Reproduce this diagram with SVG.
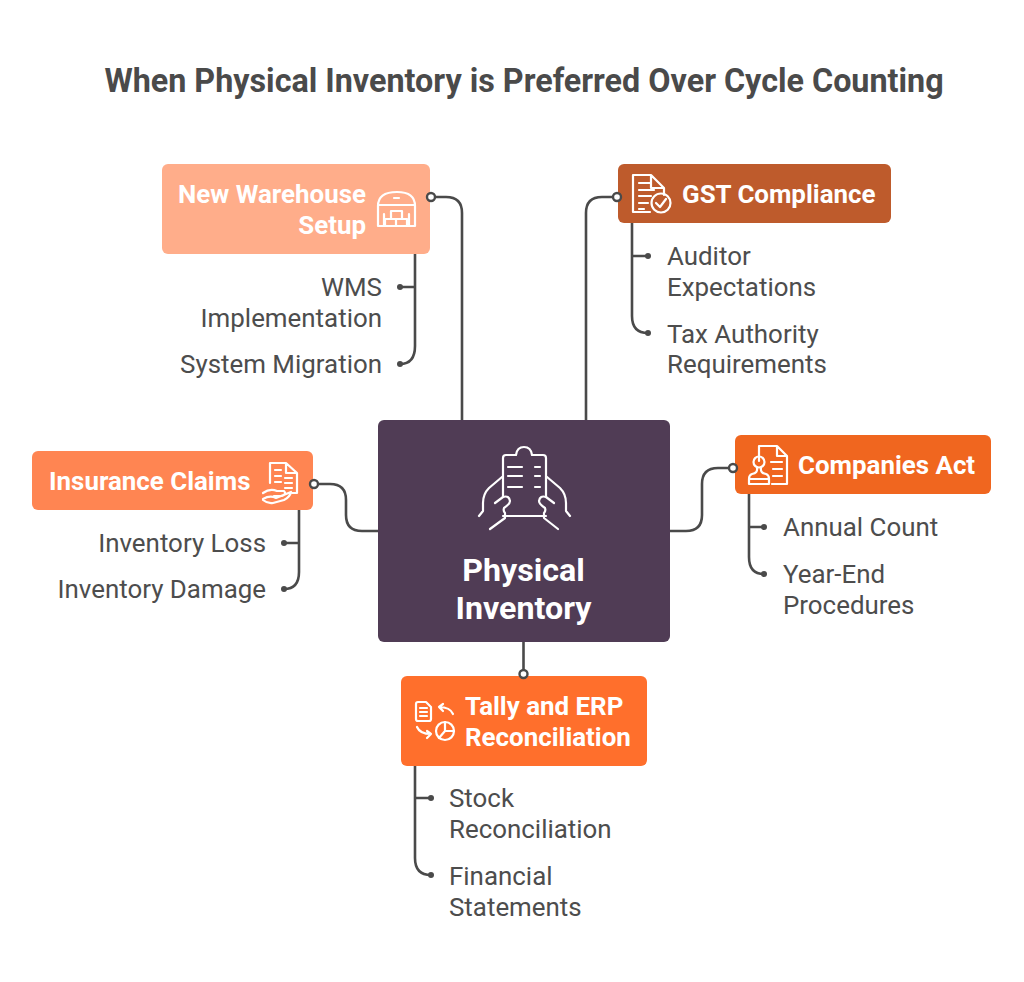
<svg xmlns="http://www.w3.org/2000/svg" width="1024" height="982" viewBox="0 0 1024 982">
<style>
text{font-family:Roboto,"Liberation Sans",sans-serif}
.title{font-size:32.3px;font-weight:700;fill:#4a4a4a;text-anchor:middle}
.head{font-size:25.9px;font-weight:700;fill:#fff}
.center{font-size:32.2px;font-weight:700;fill:#fff;text-anchor:middle}
.item{font-size:25.9px;fill:#4d4d4d}
.end{text-anchor:end}
.line{fill:none;stroke:#4a4a4a;stroke-width:2.6}
.ring{fill:#fff;stroke:#4a4a4a;stroke-width:2.4}
.dot{fill:#4a4a4a}
.ico{fill:none;stroke:#fff;stroke-width:2.2;stroke-linecap:round;stroke-linejoin:round}
</style>
<rect width="1024" height="982" fill="#fff"/>
<text class="title" x="524" y="92">When Physical Inventory is Preferred Over Cycle Counting</text>
<g id="node-warehouse">
<rect x="162" y="164" width="268" height="90" rx="6" fill="#ffad8a"/>
<text class="head end" x="366" y="203">New Warehouse</text>
<text class="head end" x="366" y="234">Setup</text>
<path class="ico" d="M378 226V206Q378 192 397 192Q415 192 415 206V226ZM378 205H415M394 198H399M384 226V214M409 226V214M385 226V219H396V226M396 226V219H407V226M391 219V211H402V219"/>
</g>
<g id="node-gst">
<rect x="618" y="164" width="273" height="59" rx="6" fill="#be5b2c"/>
<text class="head" x="682" y="203">GST Compliance</text>
<path class="ico" d="M650 212H633V175H651L664 188V195M651 175V188H664M639 183H650M639 190H654M639 196H651M639 203H648M639 209H644"/>
<circle class="ico" cx="661" cy="203" r="9.500"/>
<path class="ico" d="M656 203L660 207L666 199"/>
</g>
<g id="node-center">
<rect x="378" y="420" width="292" height="222" rx="6" fill="#503c55"/>
<path class="ico" d="M503 497V458Q503 455 506 455H516Q517 447 524 447Q531 447 532 455H543Q546 455 546 458V497M503 516H546M508 467H522M508 476H522M508 487H522M535 467H540M535 476H540M535 487H540"/>
<path class="ico" d="M502 477L489 488Q483 494 483 503V511L479 516M495 503L503 497Q509 495 510 501Q510 504 504 508Q503 511 505 513V518L490 529"/>
<path class="ico" d="M547 477L560 488Q566 494 566 503V511L570 516M554 503L546 497Q540 495 539 501Q539 504 545 508Q546 511 544 513V518L558 529"/>
<text class="center" x="523.500" y="581">Physical</text>
<text class="center" x="523.500" y="619">Inventory</text>
</g>
<g id="node-insurance">
<rect x="32" y="451" width="281" height="59" rx="6" fill="#ff8552"/>
<text class="head" x="49" y="490">Insurance Claims</text>
<path class="ico" d="M270 483V463H286L297 473V493H292M286 463V473H297M275 470H281M275 476H281M275 482H281M285 478H292M285 483H292M285 488H292"/>
<path class="ico" d="M263 493Q270 488 277 491H284Q287 494 282 496H274M263 499Q270 495 276 498L291 492Q290 497 284 500L273 503Q268 504 263 500"/>
</g>
<g id="node-companies">
<rect x="735" y="435" width="256" height="59" rx="6" fill="#f0661f"/>
<text class="head" x="798" y="474">Companies Act</text>
<path class="ico" d="M759 461V446H777L787 456V484H772M777 446V456H787M771 462H782M773 469H782M773 476H782"/>
<circle class="ico" cx="759" cy="462" r="5.500"/>
<path class="ico" d="M757 468Q758 473 752 474Q749 475 749 479V484H769V479Q769 475 766 474Q760 473 761 468M749 479H769"/>
</g>
<g id="node-tally">
<rect x="401" y="676" width="246" height="90" rx="6" fill="#ff6f2c"/>
<text class="head" x="465" y="715">Tally and ERP</text>
<text class="head" x="465" y="745.500">Reconciliation</text>
<path class="ico" d="M416 704Q416 702 418 702H426L431 707V719Q431 721 429 721H418Q416 721 416 719ZM420 708H427M420 712H427M420 716H427"/>
<path class="ico" d="M453 714Q450 707 439 707M443 704L439 707L443 711"/>
<path class="ico" d="M417 727Q420 734 431 734M427 731L431 734L427 738"/>
<circle class="ico" cx="445" cy="731" r="9"/>
<path class="ico" d="M445 722V731H454M445 731L439 738"/>
</g>
<g id="connectors">
<path class="line" d="M462 420V213Q462 197 446 197H435"/>
<path class="line" d="M586 420V213Q586 197 602 197H613"/>
<path class="line" d="M378 531H362Q346 531 346 515V500Q346 484 330 484H318"/>
<path class="line" d="M670 531H686Q702 531 702 515V484Q702 468 718 468H729"/>
<path class="line" d="M523.500 642V670"/>
<path class="line" d="M415 254V346Q415 364 400 364M415 287H400"/>
<path class="line" d="M632 223V316Q632 333 648 333M632 256H648"/>
<path class="line" d="M299 510V572Q299 589 284 589M299 543H284"/>
<path class="line" d="M749 494V557Q749 574 764 574M749 527H764"/>
<path class="line" d="M415 766V858Q415 875 431 875M415 798H431"/>
<circle class="ring" cx="431" cy="197" r="4"/>
<circle class="ring" cx="617" cy="197" r="4"/>
<circle class="ring" cx="314" cy="484" r="4"/>
<circle class="ring" cx="733" cy="468" r="4"/>
<circle class="ring" cx="523.500" cy="674" r="4"/>
<circle class="dot" cx="400" cy="287" r="3"/><circle class="dot" cx="400" cy="364" r="3"/>
<circle class="dot" cx="648" cy="256" r="3"/><circle class="dot" cx="648" cy="333" r="3"/>
<circle class="dot" cx="284" cy="543" r="3"/><circle class="dot" cx="284" cy="589" r="3"/>
<circle class="dot" cx="764" cy="527" r="3"/><circle class="dot" cx="764" cy="574" r="3"/>
<circle class="dot" cx="431" cy="798" r="3"/><circle class="dot" cx="431" cy="875" r="3"/>
</g>
<g id="items">
<text class="item end" x="382" y="296">WMS</text>
<text class="item end" x="382" y="327">Implementation</text>
<text class="item end" x="382" y="373">System Migration</text>
<text class="item" x="667" y="265">Auditor</text>
<text class="item" x="667" y="296">Expectations</text>
<text class="item" x="667" y="342.500">Tax Authority</text>
<text class="item" x="667" y="373">Requirements</text>
<text class="item end" x="266" y="552">Inventory Loss</text>
<text class="item end" x="266" y="598">Inventory Damage</text>
<text class="item" x="783" y="536">Annual Count</text>
<text class="item" x="783" y="583">Year-End</text>
<text class="item" x="783" y="614">Procedures</text>
<text class="item" x="449" y="807">Stock</text>
<text class="item" x="449" y="838">Reconciliation</text>
<text class="item" x="449" y="885">Financial</text>
<text class="item" x="449" y="916">Statements</text>
</g>
</svg>
